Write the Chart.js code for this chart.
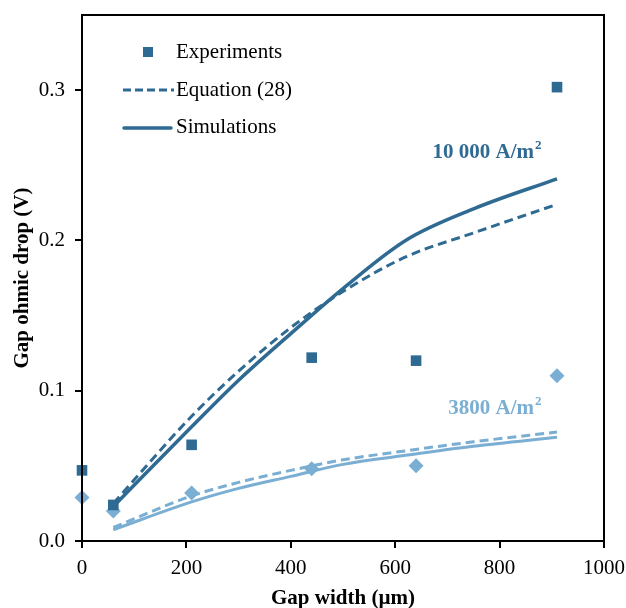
<!DOCTYPE html>
<html>
<head>
<meta charset="utf-8">
<script src="https://cdn.jsdelivr.net/npm/chart.js@4"></script>
<style>
  html, body { margin: 0; padding: 0; background: #fff; }
  #wrap { width: 626px; height: 608px; }
</style>
</head>
<body>
<div id="wrap"><canvas id="chart" width="626" height="608"></canvas></div>
<script>
// experiments (gap width in um)
const expGap = [0, 60, 210, 440, 640, 910];
const exp10000 = [0.047, 0.024, 0.064, 0.122, 0.120, 0.302];
const exp3800 = [0.029, 0.020, 0.032, 0.048, 0.050, 0.110];

// curves
const curveGap = [60, 210, 300, 400, 500, 620, 750, 910];
const eq10000 = [0.025, 0.083, 0.113, 0.142, 0.166, 0.189, 0.205, 0.224];
const sim10000 = [0.023, 0.076, 0.107, 0.138, 0.168, 0.200, 0.221, 0.241];
const eq3800 = [0.009, 0.030, 0.039, 0.047, 0.054, 0.060, 0.066, 0.0725];
const sim3800 = [0.0075, 0.026, 0.035, 0.043, 0.051, 0.057, 0.063, 0.069];

const yTicks = [0, 0.1, 0.2, 0.3];

const dark = '#2f6a93';
const light = '#7aaed3';
const serif = "'Liberation Serif', 'Times New Roman', serif";

function pts(xs, ys) {
  return xs.map((x, i) => ({ x: x, y: ys[i] }));
}

// frame, legend and the two labels
const extras = {
  id: 'extras',
  afterDraw(chart) {
    const ctx = chart.ctx;
    const a = chart.chartArea;
    ctx.save();
    ctx.strokeStyle = '#000';
    ctx.lineWidth = 2;
    ctx.strokeRect(a.left, a.top, a.right - a.left, a.bottom - a.top);

    // legend
    ctx.font = '21px ' + serif;
    ctx.fillStyle = '#000';
    ctx.textBaseline = 'middle';
    ctx.fillText('Experiments', 176, 52);
    ctx.fillText('Equation (28)', 176, 90);
    ctx.fillText('Simulations', 176, 127);
    ctx.fillStyle = dark;
    ctx.fillRect(143, 47, 10, 10);
    ctx.strokeStyle = dark;
    ctx.lineWidth = 3;
    ctx.setLineDash([8, 4]);
    ctx.beginPath(); ctx.moveTo(123, 90); ctx.lineTo(174, 90); ctx.stroke();
    ctx.setLineDash([]);
    ctx.lineWidth = 3.5;
    ctx.lineCap = 'round';
    ctx.beginPath(); ctx.moveTo(124, 128); ctx.lineTo(171, 128); ctx.stroke();

    // current density labels
    ctx.font = 'bold 21px ' + serif;
    ctx.textAlign = 'right';
    ctx.fillStyle = dark;
    ctx.fillText('10 000 A/m', 534, 153);
    ctx.fillStyle = light;
    ctx.fillText('3800 A/m', 534, 409);
    ctx.textAlign = 'left';
    ctx.font = 'bold 13px ' + serif;
    ctx.fillStyle = dark;
    ctx.fillText('2', 535, 146);
    ctx.fillStyle = light;
    ctx.fillText('2', 535, 402);
    ctx.restore();
  }
};

new Chart(document.getElementById('chart'), {
  type: 'scatter',
  data: {
    datasets: [
      {
        label: 'Simulations 10000',
        type: 'line',
        data: pts(curveGap, sim10000),
        borderColor: dark,
        borderWidth: 3.5,
        pointRadius: 0,
        cubicInterpolationMode: 'monotone',
        fill: false
      },
      {
        label: 'Equation (28) 10000',
        type: 'line',
        data: pts(curveGap, eq10000),
        borderColor: dark,
        borderWidth: 3,
        borderDash: [9, 5],
        pointRadius: 0,
        cubicInterpolationMode: 'monotone',
        fill: false
      },
      {
        label: 'Simulations 3800',
        type: 'line',
        data: pts(curveGap, sim3800),
        borderColor: light,
        borderWidth: 3,
        pointRadius: 0,
        cubicInterpolationMode: 'monotone',
        fill: false
      },
      {
        label: 'Equation (28) 3800',
        type: 'line',
        data: pts(curveGap, eq3800),
        borderColor: light,
        borderWidth: 3,
        borderDash: [9, 5],
        pointRadius: 0,
        cubicInterpolationMode: 'monotone',
        fill: false
      },
      {
        label: 'Experiments 10000',
        data: pts(expGap, exp10000),
        pointStyle: 'rect',
        pointRadius: 7.5,
        backgroundColor: dark,
        borderColor: dark,
        borderWidth: 0,
        clip: false
      },
      {
        label: 'Experiments 3800',
        data: pts(expGap, exp3800),
        pointStyle: 'rectRot',
        pointRadius: 7.5,
        backgroundColor: light,
        borderColor: light,
        borderWidth: 0,
        clip: false
      }
    ]
  },
  options: {
    responsive: false,
    animation: false,
    layout: { padding: { top: 15, right: 22, left: 10, bottom: 0 } },
    plugins: {
      legend: { display: false },
      tooltip: { enabled: false }
    },
    scales: {
      x: {
        type: 'linear',
        min: 0,
        max: 1000,
        ticks: {
          stepSize: 200,
          color: '#000',
          font: { family: serif, size: 21 },
          padding: 8,
          maxRotation: 0,
          callback: v => String(v)
        },
        grid: { drawOnChartArea: false, tickLength: 7, color: '#000', lineWidth: 2 },
        border: { display: true, color: '#000', width: 2 },
        title: {
          display: true,
          text: 'Gap width (µm)',
          color: '#000',
          font: { family: serif, size: 21, weight: 'bold' },
          padding: { top: 0, bottom: -3 }
        },
        afterFit(scale) {
          scale.height = 67;
          scale.paddingLeft = 0;
          scale.paddingRight = 0;
        }
      },
      y: {
        min: 0,
        max: 0.35,
        afterBuildTicks(scale) {
          scale.ticks = yTicks.map(v => ({ value: v }));
        },
        ticks: {
          color: '#000',
          font: { family: serif, size: 21 },
          padding: 10,
          callback: v => v.toFixed(1)
        },
        grid: { drawOnChartArea: false, tickLength: 7, color: '#000', lineWidth: 2 },
        border: { display: true, color: '#000', width: 2 },
        title: {
          display: true,
          text: 'Gap ohmic drop (V)',
          color: '#000',
          font: { family: serif, size: 21, weight: 'bold' },
          padding: { top: 0, bottom: 0 }
        },
        afterFit(scale) {
          scale.width = 72;
          scale.paddingTop = 0;
          scale.paddingBottom = 0;
        }
      }
    }
  },
  plugins: [extras]
});
</script>
</body>
</html>
